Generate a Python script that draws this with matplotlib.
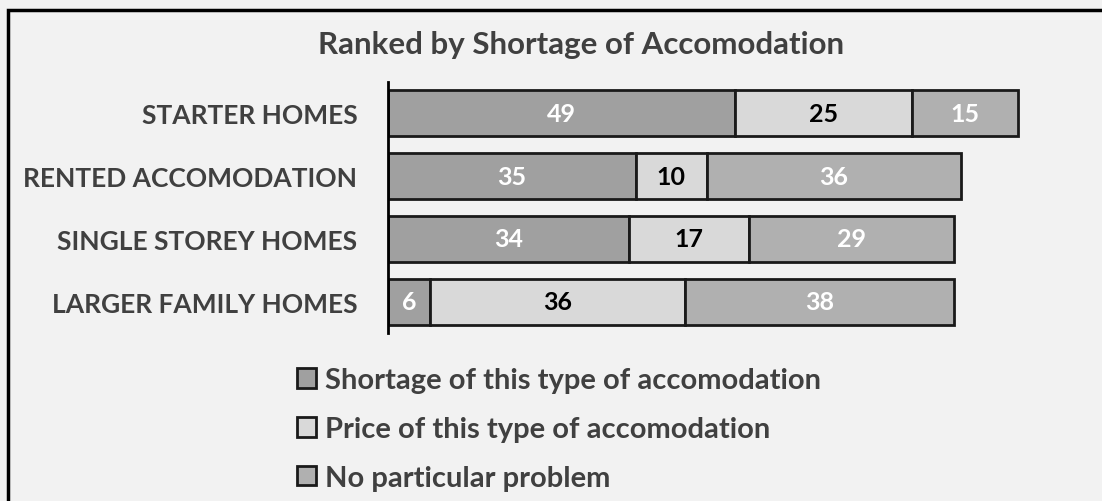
import matplotlib.pyplot as plt
from matplotlib.patches import Rectangle

plt.rcParams['font.family'] = ['Lato', 'DejaVu Sans']

categories = ["STARTER HOMES", "RENTED ACCOMODATION", "SINGLE STOREY HOMES", "LARGER FAMILY HOMES"]
shortage = [49, 35, 34, 6]
price = [25, 10, 17, 36]
no_problem = [15, 36, 29, 38]

series = [
    ("Shortage of this type of accomodation", shortage, "#A0A0A0", "white"),
    ("Price of this type of accomodation", price, "#D9D9D9", "black"),
    ("No particular problem", no_problem, "#B0B0B0", "white"),
]

W, H = 1102, 502
fig = plt.figure(figsize=(W / 100, H / 100), dpi=100, facecolor="#F2F2F2")
ax = fig.add_axes([388 / W, 1 - 334 / H, 708 / W, 251 / H])
ax.set_facecolor("#F2F2F2")

# frame round the chart (runs off the right and bottom edge)
fig.patches.append(Rectangle((8 / W, -0.05), 1.1, 1 - 11 / H + 0.05, transform=fig.transFigure,
                             fill=False, edgecolor="black", linewidth=2.5))

y = list(range(len(categories)))
left = [0] * len(categories)
handles = []
for name, vals, color, tcolor in series:
    bars = ax.barh(y, vals, left=left, height=0.73, color=color, edgecolor="#1a1a1a",
                   linewidth=2, label=name)
    handles.append(bars)
    for yi, l, v in zip(y, left, vals):
        ax.text(l + v / 2, yi, str(v), ha="center", va="center", color=tcolor,
                fontsize=18, fontweight="bold")
    left = [a + b for a, b in zip(left, vals)]

ax.set_xlim(0, 100)
ax.set_ylim(3.5, -0.5)
ax.set_yticks(y)
ax.set_yticklabels(categories, fontsize=19, fontweight="bold", color="#404040")
ax.tick_params(axis="y", length=0, pad=22)
ax.set_xticks([])
for s in ["top", "right", "bottom"]:
    ax.spines[s].set_visible(False)
ax.spines["left"].set_linewidth(2)
ax.spines["left"].set_color("black")

fig.text(581 / W, 1 - 45 / H, "Ranked by Shortage of Accomodation", ha="center", va="center",
         fontsize=22.5, fontweight="bold", color="#404040")

leg = fig.legend(handles=handles, loc="upper left", bbox_to_anchor=(277 / W, 1 - 348 / H),
                 frameon=False, handlelength=0.65, handleheight=0.65, handletextpad=0.28,
                 labelspacing=0.78, borderpad=0.2, prop={"size": 21, "weight": "bold"})
for t in leg.get_texts():
    t.set_color("#404040")

fig.savefig("out.png", dpi=100, facecolor=fig.get_facecolor())
